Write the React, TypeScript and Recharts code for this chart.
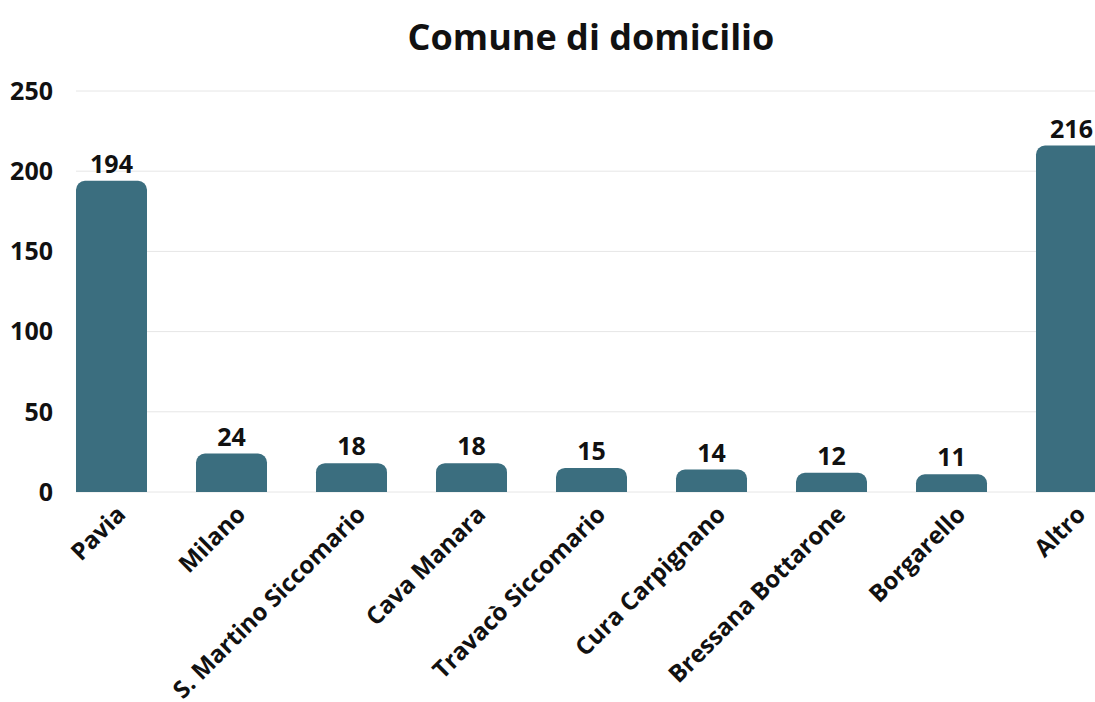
import React from 'react'
import { BarChart, Bar, XAxis, YAxis, CartesianGrid, LabelList } from 'recharts'

const comuni = [
  'Pavia',
  'Milano',
  'S. Martino Siccomario',
  'Cava Manara',
  'Travacò Siccomario',
  'Cura Carpignano',
  'Bressana Bottarone',
  'Borgarello',
  'Altro',
]
const persone = [194, 24, 18, 18, 15, 14, 12, 11, 216]
const yTicks = [0, 50, 100, 150, 200, 250]

const data = comuni.map((nome, i) => ({ nome, valore: persone[i] }))

const FONT = '"Open Sans", sans-serif'
const BAR_COLOR = '#3b6e7f'

function CategoryTick(props: any) {
  const { x, y, payload } = props
  return (
    <g transform={`translate(${x + 10},${y + 10})`}>
      <text
        x={0}
        y={0}
        dy="0.35em"
        textAnchor="end"
        transform="rotate(-45)"
        fill="#111"
        fontFamily={FONT}
        fontWeight={700}
        fontSize={24}
      >
        {payload.value}
      </text>
    </g>
  )
}

function ValueTick(props: any) {
  const { x, y, payload } = props
  return (
    <text
      x={x + 10}
      y={y}
      dy="0.35em"
      textAnchor="end"
      fill="#111"
      fontFamily={FONT}
      fontWeight={700}
      fontSize={25}
    >
      {payload.value}
    </text>
  )
}

export default function App() {
  return (
    <div
      style={{
        position: 'fixed',
        left: 0,
        top: 0,
        width: 1095,
        height: 702,
        overflow: 'hidden',
        background: '#fff',
      }}
    >
      <div style={{ position: 'absolute', left: 8, top: 8 }}>
        <div
          style={{
            position: 'absolute',
            left: 43,
            width: 1080,
            top: 6,
            textAlign: 'center',
            fontFamily: FONT,
            fontWeight: 700,
            fontSize: 36,
            color: '#111',
            lineHeight: '46px',
          }}
        >
          Comune di domicilio
        </div>
        <BarChart
          width={1123}
          height={694}
          data={data}
          margin={{ top: 83, right: 0, left: 0, bottom: 0 }}
        >
          <CartesianGrid horizontal vertical={false} stroke="#e6e6e6" x={68} width={1055} />
          <XAxis
            dataKey="nome"
            interval={0}
            height={210}
            axisLine={false}
            tickLine={false}
            tick={<CategoryTick />}
          />
          <YAxis
            width={43}
            domain={[0, 250]}
            ticks={yTicks}
            axisLine={false}
            tickLine={false}
            tick={<ValueTick />}
          />
          <Bar dataKey="valore" fill={BAR_COLOR} barSize={71} radius={[9, 9, 0, 0]} isAnimationActive={false}>
            <LabelList
              dataKey="valore"
              position="top"
              offset={8}
              fill="#111"
              fontFamily={FONT}
              fontWeight={700}
              fontSize={25}
            />
          </Bar>
        </BarChart>
      </div>
    </div>
  )
}
